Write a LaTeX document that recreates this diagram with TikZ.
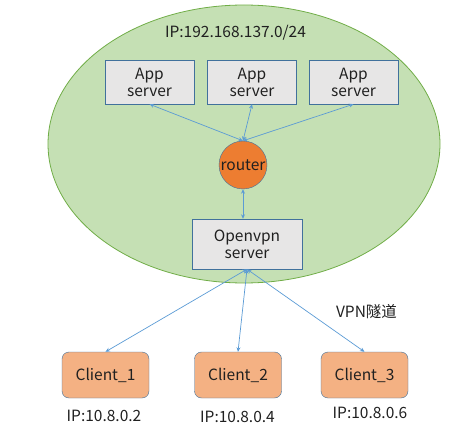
\documentclass[tikz,border=0pt]{standalone}
\usepackage{fontspec}
\setmainfont{Noto Sans CJK SC}
\usetikzlibrary{arrows.meta}

\definecolor{lan}{HTML}{C5E0B4}
\definecolor{landraw}{HTML}{70AD47}
\definecolor{boxfill}{HTML}{E7E6E6}
\definecolor{boxdraw}{HTML}{41719C}
\definecolor{routerfill}{HTML}{ED7D31}
\definecolor{clientfill}{HTML}{F4B183}
\definecolor{link}{HTML}{5B9BD5}
\definecolor{txt}{HTML}{202020}

\tikzset{
	srvbox/.style={draw=boxdraw, fill=boxfill, minimum width=89pt, minimum height=44pt, align=center, inner sep=0pt, text=txt, font=\fontsize{15.5}{17}\selectfont},
	clientbox/.style={draw=boxdraw, fill=clientfill, rounded corners=7pt, minimum width=87pt, minimum height=46pt, inner sep=0pt, text=txt, font=\fontsize{15.5}{17}\selectfont},
	lbl/.style={font=\fontsize{15.5}{17}\selectfont, text=txt, inner sep=0pt},
	link/.style={draw=link, line width=0.7pt, {Stealth[length=4.5pt,width=4pt]}-{Stealth[length=4.5pt,width=4pt]}}
}

\begin{document}
\begin{tikzpicture}[x=1pt, y=-1pt]
	\useasboundingbox (0,0) rectangle (456,436);
	% network
	\draw[draw=landraw, fill=lan, line width=0.8pt] (244,144) ellipse (196 and 139);
	\node[lbl] (netip) at (235.5,33) {IP:192.168.137.0/24};
	% servers
	\node[srvbox] (app1) at (149.5,82) {App\\server};
	\node[srvbox] (app2) at (252,82) {App\\server};
	\node[srvbox] (app3) at (353.5,82) {App\\server};
	\node[draw=boxdraw, fill=routerfill, circle, minimum size=48pt, inner sep=0pt, text=txt, font=\fontsize{15.5}{17}\selectfont] (router) at (243,165) {router};
	\node[srvbox, minimum width=110pt, minimum height=50pt] (vpn) at (247,244) {Openvpn\\server};
	% clients
	\node[clientbox] (c1) at (105.5,375) {Client\_1};
	\node[clientbox] (c2) at (238,375) {Client\_2};
	\node[clientbox] (c3) at (364.5,375) {Client\_3};
	% links
	\draw[link] (router.north) -- (app1.south);
	\draw[link] (router.north) -- (app2.south);
	\draw[link] (router.north) -- (app3.south);
	\draw[link] (router.south) -- (vpn.north -| router.south);
	\draw[link] (vpn.south) -- (c1.north);
	\draw[link] (vpn.south) -- (c2.north);
	\draw[link] (vpn.south) -- (c3.north);
	% labels
	\node[lbl] (tunnel) at (366.5,312) {VPN隧道};
	\node[lbl] (ip1) at (104,416) {IP:10.8.0.2};
	\node[lbl] (ip2) at (237.5,417) {IP:10.8.0.4};
	\node[lbl] (ip3) at (370,413) {IP:10.8.0.6};
\end{tikzpicture}
\end{document}
